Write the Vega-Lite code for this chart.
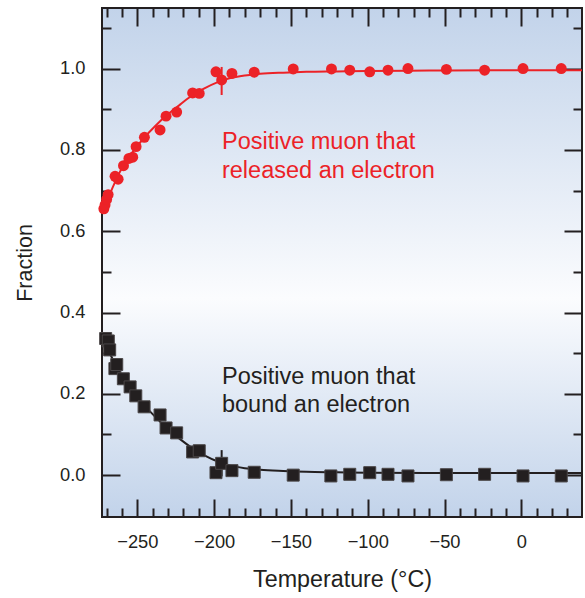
{
  "$schema": "https://vega.github.io/schema/vega-lite/v6.json",
  "width": 480,
  "height": 509,
  "autosize": "none",
  "padding": {"left": 102, "top": 8, "right": 3, "bottom": 81},
  "background": "white",
  "config": {
    "view": {
      "stroke": "#231f20",
      "strokeWidth": 2,
      "fill": {
        "gradient": "linear",
        "x1": 0, "y1": 0, "x2": 0, "y2": 1,
        "stops": [
          {"offset": 0, "color": "#c2d3ea"},
          {"offset": 0.57, "color": "#fbfcfe"},
          {"offset": 1, "color": "#c2d3ea"}
        ]
      }
    },
    "font": "Liberation Sans",
    "axis": {
      "labelFont": "Liberation Sans",
      "titleFont": "Liberation Sans",
      "labelColor": "#231f20",
      "titleColor": "#231f20",
      "tickColor": "#231f20",
      "tickWidth": 2,
      "labelFontSize": 18.3,
      "titleFontSize": 23.3,
      "titleFontWeight": "normal",
      "grid": false,
      "domain": false
    }
  },
  "datasets": {
    "pts": [
      {"T": -271.8, "f": 0.655, "s": "released"},
      {"T": -271.0, "f": 0.665, "s": "released"},
      {"T": -270.0, "f": 0.678, "s": "released"},
      {"T": -269.0, "f": 0.690, "s": "released"},
      {"T": -264.5, "f": 0.735, "s": "released"},
      {"T": -262.5, "f": 0.728, "s": "released"},
      {"T": -259.0, "f": 0.761, "s": "released"},
      {"T": -255.5, "f": 0.779, "s": "released"},
      {"T": -253.0, "f": 0.782, "s": "released"},
      {"T": -250.8, "f": 0.808, "s": "released"},
      {"T": -245.4, "f": 0.831, "s": "released"},
      {"T": -235.2, "f": 0.849, "s": "released"},
      {"T": -231.3, "f": 0.883, "s": "released"},
      {"T": -224.4, "f": 0.893, "s": "released"},
      {"T": -214.0, "f": 0.940, "s": "released"},
      {"T": -209.7, "f": 0.939, "s": "released"},
      {"T": -198.8, "f": 0.992, "s": "released"},
      {"T": -195.1, "f": 0.972, "s": "released"},
      {"T": -188.4, "f": 0.988, "s": "released"},
      {"T": -173.9, "f": 0.991, "s": "released"},
      {"T": -148.5, "f": 0.999, "s": "released"},
      {"T": -123.6, "f": 0.999, "s": "released"},
      {"T": -111.7, "f": 0.996, "s": "released"},
      {"T": -98.7, "f": 0.992, "s": "released"},
      {"T": -86.8, "f": 0.996, "s": "released"},
      {"T": -73.8, "f": 1.0, "s": "released"},
      {"T": -48.8, "f": 0.998, "s": "released"},
      {"T": -23.9, "f": 0.996, "s": "released"},
      {"T": 1.1, "f": 1.0, "s": "released"},
      {"T": 26.0, "f": 1.0, "s": "released"},
      {"T": -270.6, "f": 0.336, "s": "bound"},
      {"T": -268.9, "f": 0.330, "s": "bound"},
      {"T": -268.0, "f": 0.308, "s": "bound"},
      {"T": -264.6, "f": 0.262, "s": "bound"},
      {"T": -263.4, "f": 0.272, "s": "bound"},
      {"T": -259.1, "f": 0.237, "s": "bound"},
      {"T": -254.7, "f": 0.217, "s": "bound"},
      {"T": -251.0, "f": 0.195, "s": "bound"},
      {"T": -245.6, "f": 0.168, "s": "bound"},
      {"T": -235.2, "f": 0.148, "s": "bound"},
      {"T": -231.3, "f": 0.116, "s": "bound"},
      {"T": -224.4, "f": 0.104, "s": "bound"},
      {"T": -214.0, "f": 0.057, "s": "bound"},
      {"T": -209.7, "f": 0.060, "s": "bound"},
      {"T": -198.8, "f": 0.006, "s": "bound"},
      {"T": -195.1, "f": 0.029, "s": "bound"},
      {"T": -188.4, "f": 0.011, "s": "bound"},
      {"T": -173.9, "f": 0.007, "s": "bound"},
      {"T": -148.5, "f": 0.000, "s": "bound"},
      {"T": -124.0, "f": -0.002, "s": "bound"},
      {"T": -111.7, "f": 0.002, "s": "bound"},
      {"T": -98.7, "f": 0.006, "s": "bound"},
      {"T": -86.8, "f": 0.002, "s": "bound"},
      {"T": -73.8, "f": -0.002, "s": "bound"},
      {"T": -48.8, "f": 0.001, "s": "bound"},
      {"T": -23.9, "f": 0.002, "s": "bound"},
      {"T": 1.1, "f": -0.002, "s": "bound"},
      {"T": 26.0, "f": -0.002, "s": "bound"}
    ],
    "fit": [
      {"T": -272.5, "f": 0.645, "s": "released"},
      {"T": -268, "f": 0.690, "s": "released"},
      {"T": -264, "f": 0.725, "s": "released"},
      {"T": -259, "f": 0.762, "s": "released"},
      {"T": -253, "f": 0.795, "s": "released"},
      {"T": -246, "f": 0.828, "s": "released"},
      {"T": -238, "f": 0.860, "s": "released"},
      {"T": -230, "f": 0.888, "s": "released"},
      {"T": -222, "f": 0.912, "s": "released"},
      {"T": -214, "f": 0.935, "s": "released"},
      {"T": -206, "f": 0.952, "s": "released"},
      {"T": -198, "f": 0.966, "s": "released"},
      {"T": -190, "f": 0.976, "s": "released"},
      {"T": -180, "f": 0.983, "s": "released"},
      {"T": -170, "f": 0.987, "s": "released"},
      {"T": -155, "f": 0.990, "s": "released"},
      {"T": -140, "f": 0.992, "s": "released"},
      {"T": -120, "f": 0.993, "s": "released"},
      {"T": -100, "f": 0.994, "s": "released"},
      {"T": -60, "f": 0.995, "s": "released"},
      {"T": -20, "f": 0.996, "s": "released"},
      {"T": 39.5, "f": 0.996, "s": "released"},
      {"T": -272.5, "f": 0.335, "s": "bound"},
      {"T": -268, "f": 0.300, "s": "bound"},
      {"T": -264, "f": 0.270, "s": "bound"},
      {"T": -259, "f": 0.238, "s": "bound"},
      {"T": -253, "f": 0.205, "s": "bound"},
      {"T": -246, "f": 0.174, "s": "bound"},
      {"T": -238, "f": 0.142, "s": "bound"},
      {"T": -230, "f": 0.113, "s": "bound"},
      {"T": -222, "f": 0.088, "s": "bound"},
      {"T": -214, "f": 0.066, "s": "bound"},
      {"T": -206, "f": 0.048, "s": "bound"},
      {"T": -198, "f": 0.034, "s": "bound"},
      {"T": -190, "f": 0.024, "s": "bound"},
      {"T": -180, "f": 0.017, "s": "bound"},
      {"T": -170, "f": 0.013, "s": "bound"},
      {"T": -155, "f": 0.010, "s": "bound"},
      {"T": -140, "f": 0.008, "s": "bound"},
      {"T": -120, "f": 0.007, "s": "bound"},
      {"T": -100, "f": 0.006, "s": "bound"},
      {"T": -60, "f": 0.005, "s": "bound"},
      {"T": 39.5, "f": 0.005, "s": "bound"}
    ],
    "err": [
      {"T": -195.1, "lo": 0.935, "hi": 1.004, "s": "released"},
      {"T": -195.1, "lo": -0.003, "hi": 0.0615, "s": "bound"}
    ],
    "notes": [
      {"T": -194.9, "f": 0.801, "text": "Positive muon that", "s": "released"},
      {"T": -194.9, "f": 0.730, "text": "released an electron", "s": "released"},
      {"T": -194.9, "f": 0.224, "text": "Positive muon that", "s": "bound"},
      {"T": -194.9, "f": 0.156, "text": "bound an electron", "s": "bound"}
    ]
  },
  "resolve": {"axis": {"x": "independent", "y": "independent"}},
  "layer": [
    {
      "data": {"name": "fit"},
      "mark": {"type": "line", "interpolate": "monotone", "strokeWidth": 2},
      "encoding": {
        "x": {"field": "T", "type": "quantitative",
          "scale": {"domain": [-273, 39.5], "nice": false, "zero": false},
          "axis": {"orient": "bottom", "values": [-250, -200, -150, -100, -50, 0], "ticks": false, "labelPadding": 16, "title": "Temperature (°C)", "titlePadding": 18}},
        "y": {"field": "f", "type": "quantitative",
          "scale": {"domain": [-0.103, 1.149], "nice": false, "zero": false},
          "axis": {"orient": "left", "values": [0, 0.2, 0.4, 0.6, 0.8, 1.0], "format": ".1f", "ticks": false, "labelPadding": 17, "title": "Fraction", "titleFontSize": 21.5, "titlePadding": 23}},
        "color": {"field": "s", "type": "nominal", "legend": null,
          "scale": {"domain": ["released", "bound"], "range": ["#ec2227", "#231f20"]}},
        "detail": {"field": "s"}
      }
    },
    {
      "data": {"name": "err"},
      "mark": {"type": "rule", "strokeWidth": 2},
      "encoding": {
        "x": {"field": "T", "type": "quantitative",
          "axis": {"orient": "bottom", "values": [-250, -200, -150, -100, -50, 0], "labels": false, "tickSize": -18, "title": null}},
        "y": {"field": "lo", "type": "quantitative",
          "axis": {"orient": "left", "values": [0, 0.2, 0.4, 0.6, 0.8, 1.0], "labels": false, "tickSize": -18, "title": null}},
        "y2": {"field": "hi"},
        "color": {"field": "s", "type": "nominal", "legend": null}
      }
    },
    {
      "data": {"name": "pts"},
      "transform": [{"filter": "datum.s === 'bound'"}],
      "mark": {"type": "square", "size": 144, "filled": true, "opacity": 1, "stroke": "#4a4647", "strokeWidth": 1},
      "encoding": {
        "x": {"field": "T", "type": "quantitative",
          "axis": {"orient": "bottom", "values": [-270, -260, -240, -230, -220, -210, -190, -180, -170, -160, -140, -130, -120, -110, -90, -80, -70, -60, -40, -30, -20, -10, 10, 20, 30], "labels": false, "tickSize": -9, "title": null}},
        "y": {"field": "f", "type": "quantitative",
          "axis": {"orient": "left", "values": [0.1, 0.3, 0.5, 0.7, 0.9, 1.1], "labels": false, "tickSize": -9, "title": null}},
        "color": {"value": "#231f20"}
      }
    },
    {
      "data": {"name": "pts"},
      "transform": [{"filter": "datum.s === 'released'"}],
      "mark": {"type": "circle", "size": 120, "opacity": 1},
      "encoding": {
        "x": {"field": "T", "type": "quantitative",
          "axis": {"orient": "top", "values": [-250, -200, -150, -100, -50, 0], "labels": false, "tickSize": -18, "title": null}},
        "y": {"field": "f", "type": "quantitative",
          "axis": {"orient": "right", "values": [0, 0.2, 0.4, 0.6, 0.8, 1.0], "labels": false, "tickSize": -18, "title": null}},
        "color": {"value": "#ec2227"}
      }
    },
    {
      "data": {"name": "notes"},
      "mark": {"type": "text", "align": "left", "baseline": "alphabetic", "fontSize": 23.5, "font": "Liberation Sans"},
      "encoding": {
        "x": {"field": "T", "type": "quantitative",
          "axis": {"orient": "top", "values": [-270, -260, -240, -230, -220, -210, -190, -180, -170, -160, -140, -130, -120, -110, -90, -80, -70, -60, -40, -30, -20, -10, 10, 20, 30], "labels": false, "tickSize": -9, "title": null}},
        "y": {"field": "f", "type": "quantitative",
          "axis": {"orient": "right", "values": [0.1, 0.3, 0.5, 0.7, 0.9, 1.1], "labels": false, "tickSize": -9, "title": null}},
        "text": {"field": "text"},
        "color": {"field": "s", "type": "nominal", "legend": null}
      }
    }
  ]
}
